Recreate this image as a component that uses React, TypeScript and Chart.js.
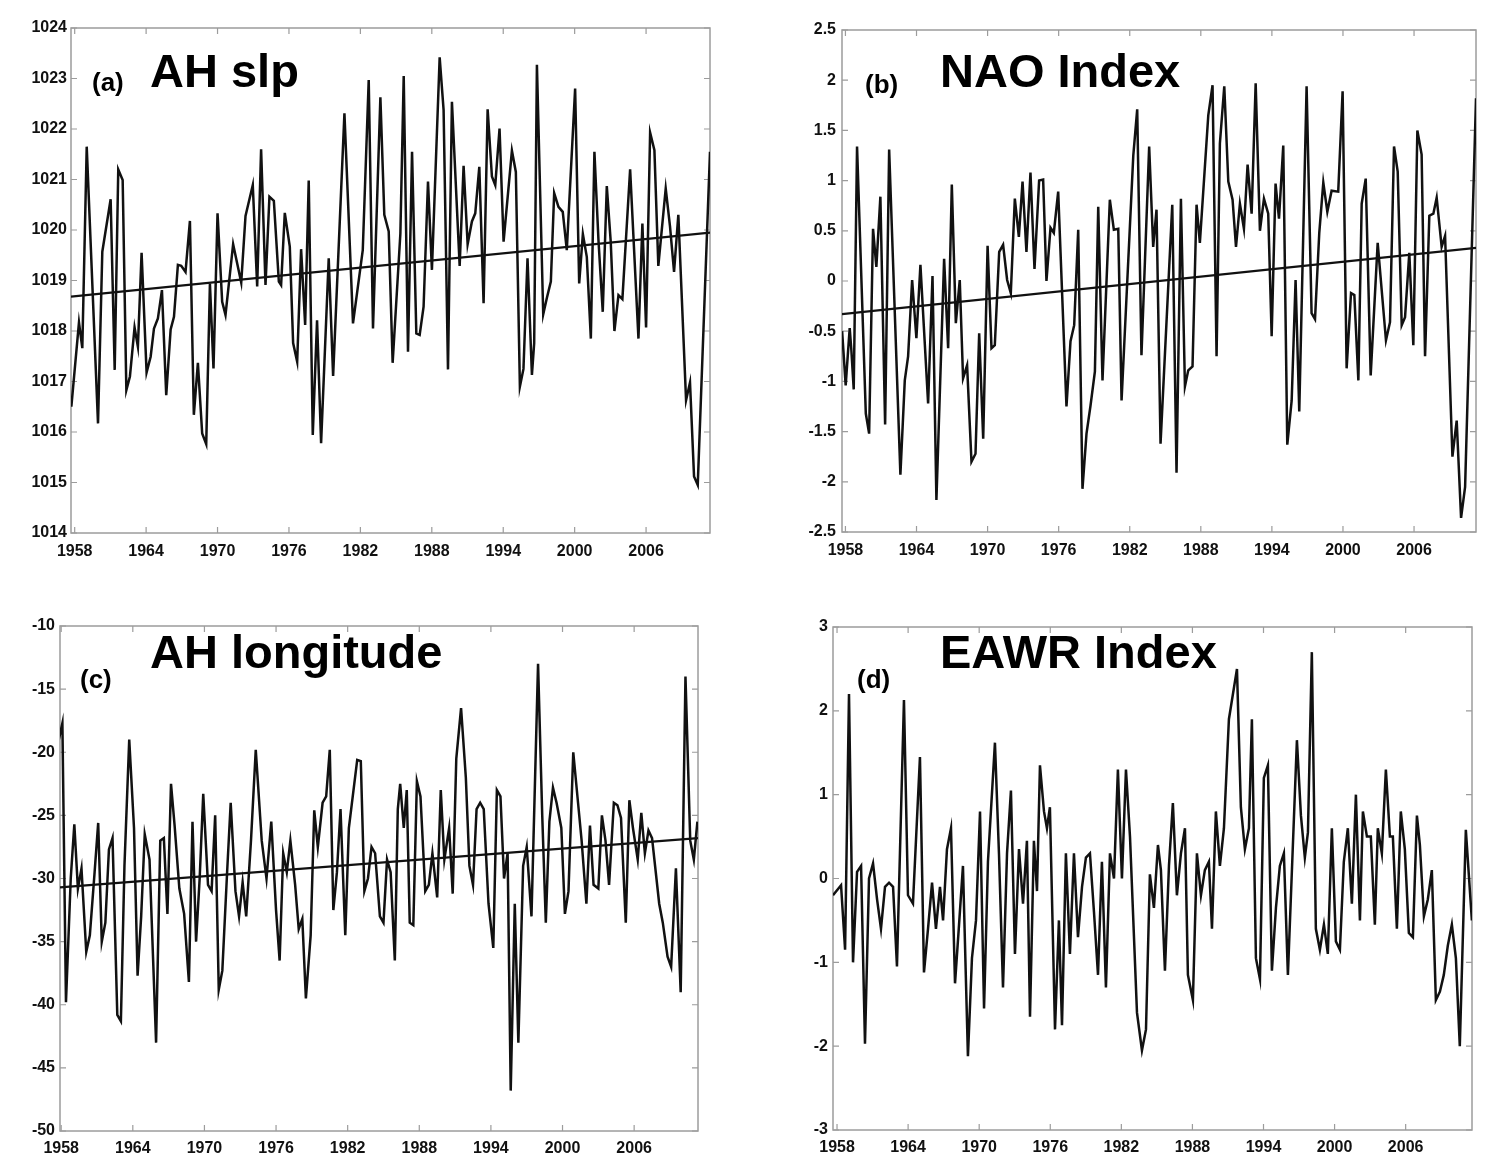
import React, { useEffect, useRef } from "react";
import { Chart, registerables } from "chart.js";
Chart.register(...registerables);

// ---------- data ----------
const yearTicks = [1958, 1964, 1970, 1976, 1982, 1988, 1994, 2000, 2006];
const slpTicks = [1014, 1015, 1016, 1017, 1018, 1019, 1020, 1021, 1022, 1023, 1024];
const naoTicks = [-2.5, -2, -1.5, -1, -0.5, 0, 0.5, 1, 1.5, 2, 2.5];
const lonTicks = [-50, -45, -40, -35, -30, -25, -20, -15, -10];
const eawrTicks = [-3, -2, -1, 0, 1, 2, 3];

const slpYears = [1957.72, 1958.36, 1958.64, 1959.01, 1959.96, 1960.32, 1961.02, 1961.36, 1961.66, 1962.03, 1962.34, 1962.64, 1963.03, 1963.31, 1963.62, 1964.04, 1964.38, 1964.66, 1964.99, 1965.33, 1965.69, 1966.06, 1966.34, 1966.67, 1966.95, 1967.31, 1967.68, 1968.01, 1968.35, 1968.71, 1969.05, 1969.36, 1969.66, 1970.0, 1970.39, 1970.67, 1971.31, 1971.99, 1972.35, 1972.96, 1973.33, 1973.66, 1974.03, 1974.36, 1974.73, 1975.15, 1975.34, 1975.65, 1976.07, 1976.35, 1976.69, 1977.02, 1977.36, 1977.66, 1978.0, 1978.36, 1978.7, 1979.34, 1979.71, 1980.66, 1981.38, 1982.2, 1982.7, 1983.06, 1983.68, 1984.01, 1984.38, 1984.71, 1985.36, 1985.64, 1986.0, 1986.34, 1986.7, 1986.98, 1987.31, 1987.68, 1988.01, 1988.66, 1988.99, 1989.36, 1989.69, 1990.34, 1990.67, 1991.01, 1991.37, 1991.65, 1991.99, 1992.35, 1992.69, 1993.05, 1993.33, 1993.69, 1994.03, 1994.73, 1995.06, 1995.4, 1995.7, 1996.04, 1996.41, 1996.6, 1996.83, 1997.36, 1997.66, 1998.0, 1998.28, 1998.64, 1999.0, 1999.34, 2000.04, 2000.38, 2000.69, 2001.02, 2001.36, 2001.66, 2002.0, 2002.36, 2002.7, 2003.03, 2003.34, 2003.68, 2004.01, 2004.66, 2005.36, 2005.69, 2006.0, 2006.34, 2006.7, 2007.03, 2007.65, 2008.01, 2008.35, 2008.71, 2009.36, 2009.69, 2010.03, 2010.34, 2011.37];
const slpValues = [1016.5, 1018.17, 1017.66, 1021.65, 1016.17, 1019.57, 1020.61, 1017.23, 1021.2, 1020.99, 1016.83, 1017.1, 1018.07, 1017.69, 1019.55, 1017.18, 1017.49, 1018.05, 1018.25, 1018.81, 1016.73, 1018.03, 1018.28, 1019.31, 1019.29, 1019.17, 1020.18, 1016.34, 1017.37, 1015.97, 1015.76, 1018.94, 1017.26, 1020.33, 1018.58, 1018.32, 1019.72, 1018.96, 1020.28, 1020.89, 1018.88, 1021.6, 1018.91, 1020.66, 1020.58, 1018.98, 1018.91, 1020.34, 1019.67, 1017.76, 1017.39, 1019.62, 1018.12, 1020.98, 1015.94, 1018.21, 1015.78, 1019.44, 1017.11, 1022.31, 1018.15, 1019.6, 1022.97, 1018.05, 1022.63, 1020.3, 1019.97, 1017.37, 1019.93, 1023.05, 1017.59, 1021.55, 1017.95, 1017.92, 1018.48, 1020.96, 1019.21, 1023.42, 1022.38, 1017.24, 1022.54, 1019.29, 1021.27, 1019.72, 1020.17, 1020.33, 1021.25, 1018.55, 1022.39, 1021.06, 1020.89, 1022.01, 1019.77, 1021.57, 1021.15, 1016.9, 1017.25, 1019.44, 1017.13, 1017.76, 1023.27, 1018.33, 1018.65, 1018.98, 1020.73, 1020.46, 1020.36, 1019.6, 1022.8, 1018.94, 1019.92, 1019.47, 1017.85, 1021.55, 1019.8, 1018.38, 1020.87, 1019.77, 1018.0, 1018.71, 1018.63, 1021.2, 1017.85, 1020.13, 1018.07, 1021.93, 1021.58, 1019.29, 1020.82, 1020.07, 1019.17, 1020.3, 1016.63, 1016.98, 1015.12, 1014.95, 1021.55];
const slpTrendYears = [1957.69, 2011.37];
const slpTrendValues = [1018.68, 1019.95];

const naoYears = [1957.72, 1958.02, 1958.36, 1958.5, 1958.7, 1958.98, 1959.72, 1960.0, 1960.33, 1960.61, 1960.95, 1961.35, 1961.69, 1962.64, 1963.01, 1963.29, 1963.63, 1963.99, 1964.33, 1964.98, 1965.35, 1965.68, 1966.33, 1966.67, 1966.98, 1967.32, 1967.65, 1967.93, 1968.27, 1968.64, 1968.98, 1969.29, 1969.63, 1970.0, 1970.33, 1970.61, 1970.98, 1971.31, 1971.65, 1971.96, 1972.3, 1972.64, 1972.95, 1973.28, 1973.62, 1973.96, 1974.35, 1974.69, 1974.97, 1975.31, 1975.59, 1975.96, 1976.66, 1977.0, 1977.31, 1977.65, 1978.01, 1978.35, 1978.69, 1979.06, 1979.34, 1979.7, 1980.32, 1980.66, 1981.03, 1981.31, 1982.3, 1982.63, 1982.99, 1983.64, 1983.98, 1984.26, 1984.6, 1985.59, 1985.95, 1986.32, 1986.66, 1986.94, 1987.3, 1987.64, 1987.92, 1988.63, 1988.99, 1989.33, 1989.61, 1989.98, 1990.32, 1990.68, 1990.97, 1991.3, 1991.64, 1991.95, 1992.29, 1992.63, 1992.99, 1993.33, 1993.69, 1993.98, 1994.31, 1994.6, 1994.96, 1995.3, 1995.67, 1996.0, 1996.31, 1996.93, 1997.35, 1997.64, 1998.0, 1998.34, 1998.68, 1999.04, 1999.6, 1999.97, 2000.31, 2000.68, 2000.96, 2001.3, 2001.58, 2001.92, 2002.34, 2002.93, 2003.63, 2003.97, 2004.31, 2004.62, 2004.96, 2005.24, 2005.6, 2005.94, 2006.28, 2006.64, 2006.93, 2007.29, 2007.63, 2007.91, 2008.33, 2008.62, 2009.24, 2009.6, 2009.97, 2010.31, 2011.23];
const naoValues = [-0.5, -1.04, -0.47, -0.69, -1.08, 1.34, -1.32, -1.52, 0.52, 0.14, 0.84, -1.43, 1.31, -1.93, -0.99, -0.75, 0.01, -0.57, 0.16, -1.22, 0.05, -2.18, 0.22, -0.67, 0.96, -0.42, 0.01, -0.97, -0.84, -1.8, -1.72, -0.52, -1.57, 0.35, -0.67, -0.64, 0.29, 0.36, 0.01, -0.12, 0.82, 0.44, 0.99, 0.29, 1.08, 0.12, 1.0, 1.01, 0.0, 0.53, 0.48, 0.89, -1.25, -0.6, -0.44, 0.51, -2.07, -1.52, -1.24, -0.9, 0.74, -0.99, 0.81, 0.51, 0.52, -1.19, 1.25, 1.71, -0.74, 1.34, 0.34, 0.71, -1.62, 0.76, -1.91, 0.82, -1.05, -0.89, -0.85, 0.76, 0.38, 1.65, 1.95, -0.75, 1.37, 1.94, 0.99, 0.81, 0.34, 0.77, 0.52, 1.16, 0.67, 1.97, 0.5, 0.82, 0.67, -0.55, 0.97, 0.62, 1.35, -1.63, -1.19, 0.01, -1.3, 1.94, -0.32, -0.38, 0.48, 0.98, 0.69, 0.9, 0.89, 1.89, -0.87, -0.12, -0.14, -0.99, 0.77, 1.02, -0.94, 0.38, -0.59, -0.41, 1.34, 1.09, -0.44, -0.36, 0.28, -0.64, 1.5, 1.26, -0.75, 0.65, 0.67, 0.83, 0.34, 0.45, -1.75, -1.39, -2.36, -2.05, 1.82];
const naoTrendYears = [1957.71, 2011.23];
const naoTrendValues = [-0.33, 0.33];

const lonYears = [1957.8, 1958.1, 1958.4, 1958.8, 1959.1, 1959.4, 1959.7, 1960.1, 1960.4, 1960.8, 1961.1, 1961.4, 1961.7, 1962.0, 1962.3, 1962.7, 1963.0, 1963.3, 1963.7, 1964.1, 1964.4, 1964.7, 1965.0, 1965.4, 1965.95, 1966.3, 1966.6, 1966.9, 1967.2, 1967.5, 1967.9, 1968.3, 1968.7, 1969.0, 1969.3, 1969.6, 1969.9, 1970.3, 1970.6, 1970.9, 1971.2, 1971.5, 1971.9, 1972.2, 1972.6, 1972.9, 1973.2, 1973.5, 1973.9, 1974.3, 1974.8, 1975.2, 1975.6, 1976.0, 1976.3, 1976.6, 1976.9, 1977.2, 1977.6, 1977.9, 1978.2, 1978.5, 1978.9, 1979.2, 1979.5, 1979.9, 1980.2, 1980.5, 1980.8, 1981.1, 1981.4, 1981.8, 1982.1, 1982.8, 1983.1, 1983.4, 1983.7, 1984.0, 1984.3, 1984.7, 1985.0, 1985.3, 1985.6, 1985.95, 1986.2, 1986.4, 1986.7, 1986.95, 1987.2, 1987.5, 1987.8, 1988.1, 1988.5, 1988.8, 1989.1, 1989.5, 1989.8, 1990.1, 1990.5, 1990.8, 1991.1, 1991.5, 1991.9, 1992.2, 1992.5, 1992.8, 1993.1, 1993.4, 1993.8, 1994.2, 1994.5, 1994.8, 1995.1, 1995.4, 1995.66, 1996.0, 1996.3, 1996.7, 1997.0, 1997.4, 1997.95, 1998.3, 1998.6, 1998.9, 1999.2, 1999.5, 1999.9, 2000.2, 2000.5, 2000.9, 2001.3, 2001.6, 2002.0, 2002.3, 2002.6, 2003.0, 2003.3, 2003.6, 2003.9, 2004.3, 2004.6, 2004.9, 2005.3, 2005.6, 2005.9, 2006.3, 2006.6, 2006.9, 2007.2, 2007.5, 2008.1, 2008.4, 2008.8, 2009.1, 2009.5, 2009.9, 2010.3, 2010.7, 2011.0, 2011.3];
const lonValues = [-19, -17.7, -39.8, -30, -25.7, -30.8, -29.2, -35.8, -34.5, -29.5, -25.6, -35, -33.5, -27.7, -26.8, -40.8, -41.3, -29, -19, -26, -37.7, -33, -26.5, -28.5, -43, -27, -26.8, -32.8, -22.5, -25.8, -30.8, -32.8, -38.2, -25.5, -35, -30, -23.3, -30.5, -31, -25, -38.8, -37.3, -29.5, -24, -31, -33, -30.3, -33, -27, -19.8, -27, -30, -25.5, -32.5, -36.5, -28, -29.5, -27, -30.5, -34, -33.2, -39.5, -34.5, -24.6, -27.5, -24, -23.5, -19.8, -32.5, -29.5, -24.5, -34.5, -26, -20.6, -20.7, -31, -30, -27.5, -28, -33, -33.5, -28.5, -29.5, -36.5, -24.5, -22.5, -26, -23, -33.5, -33.7, -22.3, -23.5, -31, -30.5, -28, -31.5, -23, -28.5, -26, -31.2, -20.5, -16.5, -22, -29, -30.5, -24.5, -24, -24.5, -32, -35.5, -23, -23.5, -30, -28, -46.8, -32, -43, -29, -27.5, -33, -13, -25, -33.5, -25.5, -22.8, -24, -26, -32.8, -31, -20, -24, -27, -32, -25.8, -30.5, -30.8, -25, -27, -30.5, -24, -24.2, -25.2, -33.5, -23.8, -26, -28.5, -24.8, -28, -26.2, -26.8, -32, -33.5, -36.2, -37, -29.2, -39, -14, -27, -28.5, -25.5];
const lonTrendYears = [1957.9, 2011.35];
const lonTrendValues = [-30.7, -26.8];

const eawrYears = [1957.66, 1958.34, 1958.68, 1959.01, 1959.35, 1959.69, 1960.03, 1960.36, 1960.7, 1961.04, 1961.38, 1961.71, 1962.05, 1962.39, 1962.73, 1963.06, 1963.65, 1963.99, 1964.41, 1965.0, 1965.34, 1965.68, 1966.02, 1966.35, 1966.69, 1966.95, 1967.28, 1967.62, 1967.96, 1968.3, 1968.63, 1969.05, 1969.39, 1969.73, 1970.07, 1970.41, 1970.74, 1971.33, 1971.67, 1972.01, 1972.35, 1972.68, 1973.02, 1973.36, 1973.7, 1974.03, 1974.29, 1974.62, 1974.88, 1975.13, 1975.47, 1975.72, 1975.97, 1976.4, 1976.73, 1976.99, 1977.32, 1977.66, 1978.0, 1978.34, 1978.68, 1979.01, 1979.35, 1979.69, 1980.03, 1980.36, 1980.7, 1981.04, 1981.38, 1981.71, 1982.05, 1982.39, 1982.73, 1983.32, 1983.74, 1984.08, 1984.41, 1984.75, 1985.09, 1985.34, 1985.68, 1986.02, 1986.35, 1986.69, 1987.03, 1987.37, 1987.62, 1988.04, 1988.38, 1988.72, 1989.05, 1989.39, 1989.65, 1989.98, 1990.32, 1990.66, 1991.08, 1991.76, 1992.09, 1992.43, 1992.77, 1993.02, 1993.36, 1993.7, 1994.03, 1994.37, 1994.71, 1995.05, 1995.38, 1995.72, 1996.06, 1996.82, 1997.16, 1997.49, 1997.75, 1998.08, 1998.42, 1998.76, 1999.1, 1999.43, 1999.77, 2000.11, 2000.45, 2000.78, 2001.12, 2001.46, 2001.8, 2002.14, 2002.39, 2002.73, 2003.06, 2003.4, 2003.65, 2003.99, 2004.33, 2004.67, 2004.92, 2005.26, 2005.59, 2005.93, 2006.27, 2006.61, 2006.95, 2007.2, 2007.54, 2007.87, 2008.21, 2008.55, 2008.89, 2009.22, 2009.56, 2009.9, 2010.24, 2010.57, 2011.08, 2011.59];
const eawrValues = [-0.2, -0.08, -0.85, 2.2, -1.0, 0.08, 0.15, -1.97, 0.0, 0.18, -0.25, -0.6, -0.1, -0.05, -0.1, -1.05, 2.13, -0.2, -0.3, 1.45, -1.12, -0.6, -0.05, -0.6, -0.1, -0.5, 0.35, 0.6, -1.25, -0.55, 0.15, -2.12, -0.95, -0.5, 0.8, -1.55, 0.2, 1.62, 0.3, -1.3, 0.3, 1.05, -0.9, 0.35, -0.3, 0.45, -1.65, 0.45, -0.15, 1.35, 0.8, 0.6, 0.85, -1.8, -0.5, -1.75, 0.3, -0.9, 0.3, -0.7, -0.1, 0.25, 0.3, -0.4, -1.15, 0.2, -1.3, 0.3, 0.0, 1.3, 0.0, 1.3, 0.5, -1.6, -2.05, -1.8, 0.05, -0.35, 0.4, 0.1, -1.1, 0.15, 0.9, -0.2, 0.3, 0.6, -1.15, -1.45, 0.3, -0.2, 0.1, 0.2, -0.6, 0.8, 0.15, 0.6, 1.9, 2.5, 0.85, 0.35, 0.6, 1.9, -0.95, -1.2, 1.2, 1.35, -1.1, -0.35, 0.15, 0.3, -1.15, 1.65, 0.75, 0.25, 0.55, 2.7, -0.6, -0.85, -0.55, -0.9, 0.6, -0.75, -0.85, 0.2, 0.6, -0.3, 1.0, -0.5, 0.8, 0.5, 0.5, -0.55, 0.6, 0.3, 1.3, 0.5, 0.5, -0.6, 0.8, 0.35, -0.65, -0.7, 0.75, 0.4, -0.45, -0.25, 0.1, -1.45, -1.35, -1.15, -0.8, -0.55, -0.95, -2.0, 0.58, -0.5];

// ---------- rendering ----------
const FONT = "'Liberation Sans', Arial, Helvetica, sans-serif";

const framePlugin = {
  id: "frame",
  beforeDatasetsDraw(chart: any) {
    const { ctx, chartArea } = chart;
    const { left, right, top, bottom } = chartArea;
    const xs = chart.scales.x;
    const ys = chart.scales.y;
    ctx.save();
    ctx.strokeStyle = "#9c9c9c";
    ctx.lineWidth = 1.5;
    ctx.strokeRect(left, top, right - left, bottom - top);
    ctx.lineWidth = 1.2;
    ctx.beginPath();
    xs.ticks.forEach((t: any) => {
      const px = xs.getPixelForValue(t.value);
      ctx.moveTo(px, bottom);
      ctx.lineTo(px, bottom - 6);
      ctx.moveTo(px, top);
      ctx.lineTo(px, top + 6);
    });
    ys.ticks.forEach((t: any) => {
      const py = ys.getPixelForValue(t.value);
      ctx.moveTo(left, py);
      ctx.lineTo(left + 6, py);
      ctx.moveTo(right, py);
      ctx.lineTo(right - 6, py);
    });
    ctx.stroke();
    ctx.restore();
  },
};

type PanelProps = {
  canvas: { left: number; top: number; w: number; h: number };
  plot: { l: number; t: number; r: number; b: number };
  xMin: number;
  xMax: number;
  yMin: number;
  yMax: number;
  yTicks: number[];
  years: number[];
  values: number[];
  trendYears?: number[];
  trendValues?: number[];
  xPad: number;
  yPad: number;
};

function Panel(p: PanelProps) {
  const ref = useRef<HTMLCanvasElement>(null);
  useEffect(() => {
    if (!ref.current) return;
    const c = p.canvas;
    const pl = p.plot;
    const tickFont = { family: FONT, size: 16, weight: "bold" as const };
    const datasets: any[] = [
      {
        data: p.years.map((x, i) => ({ x, y: p.values[i] })),
        borderColor: "#111111",
        borderWidth: 2.5,
        pointRadius: 0,
        tension: 0,
        fill: false,
        borderJoinStyle: "miter",
      },
    ];
    if (p.trendYears && p.trendValues) {
      datasets.push({
        data: p.trendYears.map((x, i) => ({ x, y: p.trendValues![i] })),
        borderColor: "#111111",
        borderWidth: 2.2,
        pointRadius: 0,
        tension: 0,
        fill: false,
      });
    }
    const chart = new Chart(ref.current, {
      type: "line",
      data: { datasets },
      options: {
        animation: false,
        responsive: false,
        maintainAspectRatio: false,
        events: [],
        layout: {
          padding: {
            left: 0,
            top: pl.t - c.top,
            right: c.left + c.w - pl.r,
            bottom: 0,
          },
        },
        plugins: { legend: { display: false }, tooltip: { enabled: false } },
        scales: {
          x: {
            type: "linear",
            min: p.xMin,
            max: p.xMax,
            afterBuildTicks: (s: any) => {
              s.ticks = yearTicks.map((v) => ({ value: v }));
            },
            afterFit: (s: any) => {
              s.height = c.top + c.h - pl.b;
            },
            grid: { display: false, drawTicks: false },
            border: { display: false },
            ticks: {
              padding: p.xPad,
              color: "#111",
              font: tickFont,
              autoSkip: false,
              maxRotation: 0,
              callback: (v: any) => String(v),
            },
          },
          y: {
            type: "linear",
            min: p.yMin,
            max: p.yMax,
            afterBuildTicks: (s: any) => {
              s.ticks = p.yTicks.map((v) => ({ value: v }));
            },
            afterFit: (s: any) => {
              s.width = pl.l - c.left;
            },
            grid: { display: false, drawTicks: false },
            border: { display: false },
            ticks: {
              padding: p.yPad,
              color: "#111",
              font: tickFont,
              autoSkip: false,
              callback: (v: any) => String(v),
            },
          },
        },
      } as any,
      plugins: [framePlugin],
    });
    return () => chart.destroy();
  }, []);
  return (
    <canvas
      ref={ref}
      width={p.canvas.w}
      height={p.canvas.h}
      style={{
        position: "absolute",
        left: p.canvas.left,
        top: p.canvas.top,
        width: p.canvas.w,
        height: p.canvas.h,
      }}
    />
  );
}

function Label(props: { text: string; left: number; baseline: number; size: number }) {
  const top = props.baseline - 0.8465 * props.size;
  return (
    <div
      style={{
        position: "absolute",
        left: props.left,
        top,
        fontFamily: FONT,
        fontWeight: "bold",
        fontSize: props.size,
        lineHeight: 1,
        whiteSpace: "nowrap",
        color: "#000",
      }}
    >
      {props.text}
    </div>
  );
}

export default function App() {
  return (
    <div style={{ position: "absolute", left: 0, top: 0, width: 1486, height: 1153, background: "#fff", overflow: "hidden" }}>
      <Panel
        canvas={{ left: 0, top: 0, w: 745, h: 580 }}
        plot={{ l: 71, t: 28, r: 710, b: 533 }}
        xMin={1957.69}
        xMax={2011.37}
        yMin={1014}
        yMax={1024}
        yTicks={slpTicks}
        years={slpYears}
        values={slpValues}
        trendYears={slpTrendYears}
        trendValues={slpTrendValues}
        xPad={9}
        yPad={4}
      />
      <Panel
        canvas={{ left: 760, top: 0, w: 726, h: 580 }}
        plot={{ l: 842, t: 30, r: 1476, b: 532 }}
        xMin={1957.71}
        xMax={2011.23}
        yMin={-2.5}
        yMax={2.5}
        yTicks={naoTicks}
        years={naoYears}
        values={naoValues}
        trendYears={naoTrendYears}
        trendValues={naoTrendValues}
        xPad={9}
        yPad={6}
      />
      <Panel
        canvas={{ left: 0, top: 590, w: 745, h: 563 }}
        plot={{ l: 60, t: 626, r: 698, b: 1131 }}
        xMin={1957.9}
        xMax={2011.35}
        yMin={-50}
        yMax={-10}
        yTicks={lonTicks}
        years={lonYears}
        values={lonValues}
        trendYears={lonTrendYears}
        trendValues={lonTrendValues}
        xPad={8}
        yPad={5}
      />
      <Panel
        canvas={{ left: 760, top: 590, w: 726, h: 563 }}
        plot={{ l: 833, t: 627, r: 1472, b: 1130 }}
        xMin={1957.66}
        xMax={2011.6}
        yMin={-3}
        yMax={3}
        yTicks={eawrTicks}
        years={eawrYears}
        values={eawrValues}
        xPad={8}
        yPad={5}
      />
      <Label text="(a)" left={92} baseline={91.5} size={26} />
      <Label text="AH slp" left={150} baseline={86.7} size={47} />
      <Label text="(b)" left={865} baseline={93} size={26} />
      <Label text="NAO Index" left={940} baseline={86.7} size={47} />
      <Label text="(c)" left={80} baseline={688} size={26} />
      <Label text="AH longitude" left={150} baseline={668} size={47} />
      <Label text="(d)" left={857} baseline={688} size={26} />
      <Label text="EAWR Index" left={940} baseline={668} size={47} />
    </div>
  );
}
